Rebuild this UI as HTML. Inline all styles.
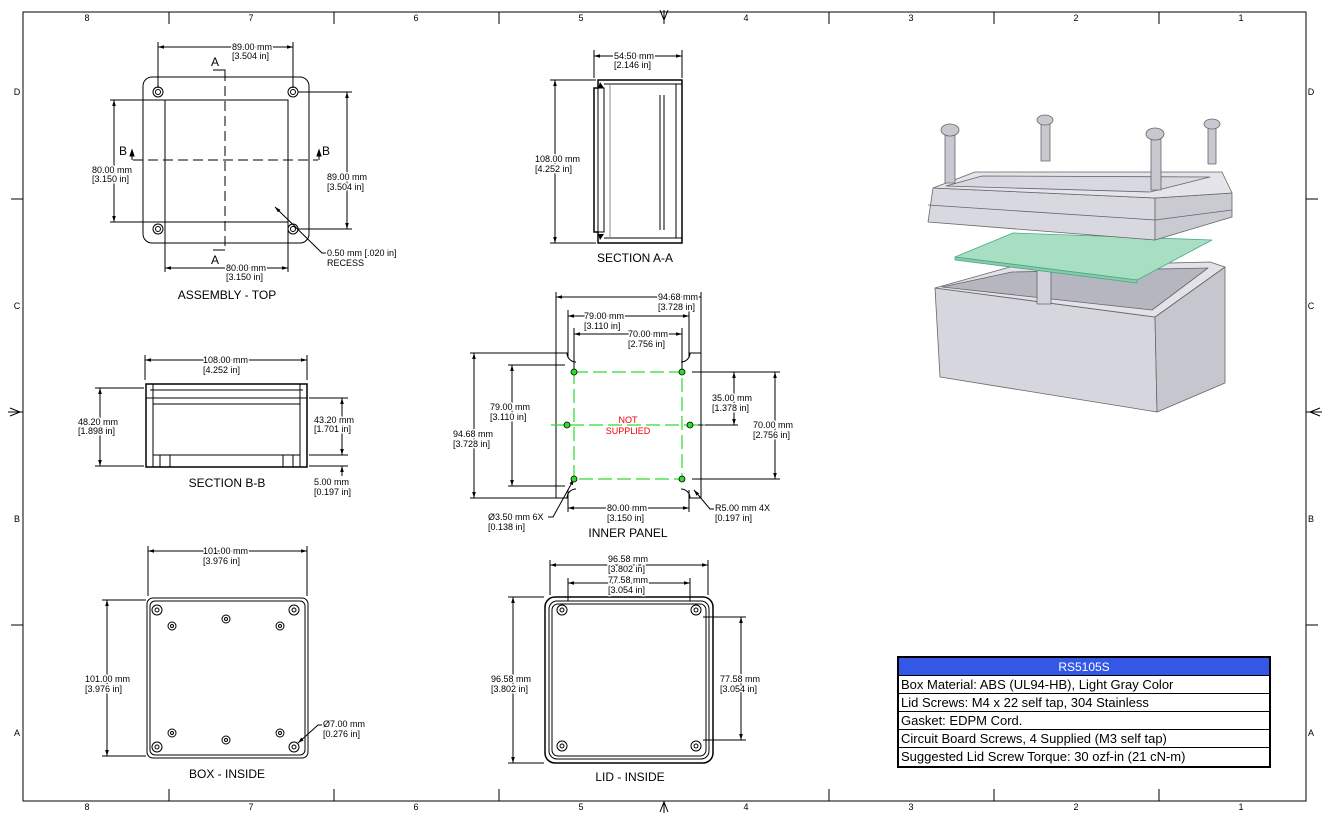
<!DOCTYPE html>
<html><head><meta charset="utf-8"><style>
body{margin:0;background:#fff}
svg{display:block;font-family:"Liberation Sans",sans-serif}
text{fill:#000}
.d text,.d{font-size:9px;stroke:#fff;stroke-width:3px;paint-order:stroke;stroke-linejoin:round}
.t{font-size:12px}
</style></head><body>
<svg width="1336" height="838" viewBox="0 0 1336 838" xmlns="http://www.w3.org/2000/svg">
<defs>
<marker id="a" viewBox="0 0 10 10" refX="10" refY="5" markerWidth="6" markerHeight="6" orient="auto-start-reverse"><path d="M0,2 L10,5 L0,8z" fill="#000"/></marker>
<linearGradient id="g" x1="0" x2="1"><stop offset="0" stop-color="#dcdce2"/><stop offset="1" stop-color="#c8c8d0"/></linearGradient>
</defs>
<rect x="0" y="0" width="1336" height="838" fill="#fff"/>
<rect x="23" y="12" width="1283" height="789" fill="none" stroke="#000" stroke-width="1"/>
<g stroke="#000" stroke-width="1">
<line x1="169" y1="12" x2="169" y2="24"/><line x1="334" y1="12" x2="334" y2="24"/><line x1="499" y1="12" x2="499" y2="24"/><line x1="829" y1="12" x2="829" y2="24"/><line x1="994" y1="12" x2="994" y2="24"/><line x1="1159" y1="12" x2="1159" y2="24"/>
<line x1="169" y1="789" x2="169" y2="801"/><line x1="334" y1="789" x2="334" y2="801"/><line x1="499" y1="789" x2="499" y2="801"/><line x1="829" y1="789" x2="829" y2="801"/><line x1="994" y1="789" x2="994" y2="801"/><line x1="1159" y1="789" x2="1159" y2="801"/>
<line x1="11" y1="199" x2="23" y2="199"/><line x1="11" y1="625" x2="23" y2="625"/><line x1="1306" y1="199" x2="1318" y2="199"/><line x1="1306" y1="625" x2="1318" y2="625"/>
</g>
<g fill="none" stroke="#000"><path d="M660,10 L664,20 L668,10 M664,10 V24"/><path d="M660,812 L664,802 L668,812 M664,801 V813"/><path d="M10,408 L20,412 L10,416 M8,412 H23"/><path d="M1320,408 L1310,412 L1320,416 M1306,412 H1322"/></g>
<g font-size="9px" text-anchor="middle">
<text x="87" y="21">8</text><text x="251" y="21">7</text><text x="416" y="21">6</text><text x="581" y="21">5</text><text x="746" y="21">4</text><text x="911" y="21">3</text><text x="1076" y="21">2</text><text x="1241" y="21">1</text>
<text x="87" y="810">8</text><text x="251" y="810">7</text><text x="416" y="810">6</text><text x="581" y="810">5</text><text x="746" y="810">4</text><text x="911" y="810">3</text><text x="1076" y="810">2</text><text x="1241" y="810">1</text>
<text x="17" y="95">D</text><text x="17" y="309">C</text><text x="17" y="522">B</text><text x="17" y="736">A</text>
<text x="1311" y="95">D</text><text x="1311" y="309">C</text><text x="1311" y="522">B</text><text x="1311" y="736">A</text>
</g>

<!-- ASSEMBLY TOP -->
<g fill="none" stroke="#000" stroke-width="1">
<rect x="143" y="77" width="166" height="166" rx="9"/>
<rect x="165" y="100" width="123" height="122"/>
<circle cx="158" cy="92" r="5"/><circle cx="158" cy="92" r="2.5"/>
<circle cx="293" cy="92" r="5"/><circle cx="293" cy="92" r="2.5"/>
<circle cx="158" cy="229" r="5"/><circle cx="158" cy="229" r="2.5"/>
<circle cx="293" cy="229" r="5"/><circle cx="293" cy="229" r="2.5"/>
<line x1="225" y1="71" x2="225" y2="250" stroke-dasharray="10,5"/>
<line x1="133" y1="160" x2="318" y2="160" stroke-dasharray="10,5"/>
<path d="M225,71 V70 H213 M225,250 H213"/>
<line x1="158" y1="42" x2="158" y2="88"/><line x1="293" y1="42" x2="293" y2="88"/>
<line x1="158" y1="47" x2="293" y2="47" marker-start="url(#a)" marker-end="url(#a)"/>
<line x1="110" y1="100" x2="165" y2="100"/><line x1="110" y1="222" x2="165" y2="222"/>
<line x1="114" y1="100" x2="114" y2="222" marker-start="url(#a)" marker-end="url(#a)"/>
<line x1="298" y1="92" x2="352" y2="92"/><line x1="298" y1="229" x2="352" y2="229"/>
<line x1="347" y1="92" x2="347" y2="229" marker-start="url(#a)" marker-end="url(#a)"/>
<line x1="165" y1="222" x2="165" y2="272"/><line x1="288" y1="222" x2="288" y2="272"/>
<line x1="165" y1="268" x2="288" y2="268" marker-start="url(#a)" marker-end="url(#a)"/>
<path d="M275,207 L322,253 H327" marker-start="url(#a)"/>
</g>
<path d="M132,150 l-2,6 h4z M132,150 v10 M319,150 l-2,6 h4z M319,150 v10" stroke="#000" fill="#000"/>
<g class="d">
<text x="232" y="50">89.00 mm</text><text x="232" y="59">[3.504 in]</text>
<text x="92" y="173">80.00 mm</text><text x="92" y="182">[3.150 in]</text>
<text x="327" y="180">89.00 mm</text><text x="327" y="190">[3.504 in]</text>
<text x="226" y="271">80.00 mm</text><text x="226" y="280">[3.150 in]</text>
<text x="327" y="256">0.50 mm [.020 in]</text><text x="327" y="266">RECESS</text>
</g>
<g font-size="12px"><text x="211" y="66">A</text><text x="211" y="264">A</text><text x="119" y="155">B</text><text x="322" y="155">B</text></g>
<text x="227" y="299" class="t" text-anchor="middle">ASSEMBLY - TOP</text>

<!-- SECTION A-A -->
<g fill="none" stroke="#000">
<path d="M598,80 H682 V243 H598 V232 H594 V88 H598Z" stroke-width="1.5"/>
<path d="M604,84 H676 M604,238 H676"/>
<rect x="598" y="88" width="6" height="144"/>
<rect x="676" y="84" width="6" height="154"/>
<line x1="660" y1="95" x2="660" y2="230"/><line x1="664" y1="95" x2="664" y2="230"/>
<line x1="610" y1="84" x2="610" y2="238" stroke="#888"/>
<line x1="594" y1="50" x2="594" y2="78"/><line x1="682" y1="50" x2="682" y2="78"/>
<line x1="594" y1="56" x2="682" y2="56" marker-start="url(#a)" marker-end="url(#a)"/>
<line x1="550" y1="80" x2="596" y2="80"/><line x1="550" y1="243" x2="596" y2="243"/>
<line x1="555" y1="80" x2="555" y2="243" marker-start="url(#a)" marker-end="url(#a)"/>
</g>
<path d="M600,82 L604,88 L598,88Z M600,240 L604,234 L598,234Z" fill="#000"/>
<g class="d"><text x="614" y="59">54.50 mm</text><text x="614" y="68">[2.146 in]</text>
<text x="535" y="162">108.00 mm</text><text x="535" y="172">[4.252 in]</text></g>
<text x="635" y="262" class="t" text-anchor="middle">SECTION A-A</text>

<!-- SECTION B-B -->
<g fill="none" stroke="#000">
<path d="M146,384 H307 V467 H146Z" stroke-width="1.5"/>
<path d="M150,390 H303 M146,398 H307 M153,404 H300"/>
<rect x="146" y="384" width="7" height="83"/><rect x="300" y="384" width="7" height="83"/>
<path d="M153,455 H300 M160,455 V467 M170,455 V467 M283,455 V467 M293,455 V467"/>
<line x1="145" y1="355" x2="145" y2="380"/><line x1="307" y1="355" x2="307" y2="380"/>
<line x1="145" y1="360" x2="307" y2="360" marker-start="url(#a)" marker-end="url(#a)"/>
<line x1="95" y1="388" x2="144" y2="388"/><line x1="95" y1="466" x2="144" y2="466"/>
<line x1="100" y1="388" x2="100" y2="466" marker-start="url(#a)" marker-end="url(#a)"/>
<line x1="309" y1="398" x2="348" y2="398"/><line x1="309" y1="455" x2="348" y2="455"/><line x1="309" y1="466" x2="348" y2="466"/>
<line x1="342" y1="398" x2="342" y2="455" marker-start="url(#a)" marker-end="url(#a)"/>
<line x1="342" y1="466" x2="342" y2="476" marker-start="url(#a)"/>
</g>
<g class="d"><text x="203" y="363">108.00 mm</text><text x="203" y="373">[4.252 in]</text>
<text x="78" y="425">48.20 mm</text><text x="78" y="434">[1.898 in]</text>
<text x="314" y="423">43.20 mm</text><text x="314" y="432">[1.701 in]</text>
<text x="314" y="485">5.00 mm</text><text x="314" y="495">[0.197 in]</text></g>
<text x="227" y="487" class="t" text-anchor="middle">SECTION B-B</text>

<!-- INNER PANEL -->
<g fill="none" stroke="#000">
<path d="M556,353 H567 A9,9 0 0 0 576,362 M556,353 V498 H567 A9,9 0 0 1 576,489 M701,353 H690 A9,9 0 0 1 681,362 M701,353 V498 H690 A9,9 0 0 0 681,489"/>
<line x1="556" y1="292" x2="556" y2="353"/><line x1="701" y1="292" x2="701" y2="353"/>
<line x1="556" y1="297" x2="701" y2="297" marker-start="url(#a)" marker-end="url(#a)"/>
<line x1="568" y1="310" x2="568" y2="358"/><line x1="689" y1="310" x2="689" y2="358"/>
<line x1="568" y1="316" x2="689" y2="316" marker-start="url(#a)" marker-end="url(#a)"/>
<line x1="574" y1="328" x2="574" y2="370"/><line x1="682" y1="328" x2="682" y2="370"/>
<line x1="574" y1="334" x2="682" y2="334" marker-start="url(#a)" marker-end="url(#a)"/>
<line x1="470" y1="353" x2="556" y2="353"/><line x1="470" y1="498" x2="556" y2="498"/>
<line x1="474" y1="353" x2="474" y2="498" marker-start="url(#a)" marker-end="url(#a)"/>
<line x1="508" y1="365" x2="565" y2="365"/><line x1="508" y1="486" x2="565" y2="486"/>
<line x1="512" y1="365" x2="512" y2="486" marker-start="url(#a)" marker-end="url(#a)"/>
<line x1="692" y1="372" x2="780" y2="372"/><line x1="692" y1="479" x2="780" y2="479"/>
<line x1="775" y1="372" x2="775" y2="479" marker-start="url(#a)" marker-end="url(#a)"/>
<line x1="694" y1="425" x2="738" y2="425"/>
<line x1="734" y1="372" x2="734" y2="425" marker-start="url(#a)" marker-end="url(#a)"/>
<line x1="568" y1="490" x2="568" y2="512"/><line x1="689" y1="490" x2="689" y2="512"/>
<line x1="568" y1="508" x2="689" y2="508" marker-start="url(#a)" marker-end="url(#a)"/>
<path d="M574,479 L553,517 H548" marker-start="url(#a)"/>
<path d="M694,490 L710,509 H714" marker-start="url(#a)"/>
</g>
<g fill="none" stroke="#2ddc2d" stroke-width="1.2" stroke-dasharray="14,5">
<rect x="574" y="372" width="108" height="107"/>
<line x1="551" y1="425" x2="705" y2="425"/>
</g>
<g fill="#2ddc2d" stroke="#000" stroke-width="0.8">
<circle cx="574" cy="372" r="3"/><circle cx="682" cy="372" r="3"/><circle cx="574" cy="479" r="3"/><circle cx="682" cy="479" r="3"/><circle cx="567" cy="425" r="3"/><circle cx="690" cy="425" r="3"/>
</g>
<g class="d" text-anchor="middle"><text x="628" y="423" style="fill:#e00">NOT</text><text x="628" y="434" style="fill:#e00">SUPPLIED</text></g>
<g class="d"><text x="658" y="300">94.68 mm</text><text x="658" y="310">[3.728 in]</text>
<text x="584" y="319">79.00 mm</text><text x="584" y="329">[3.110 in]</text>
<text x="628" y="337">70.00 mm</text><text x="628" y="347">[2.756 in]</text>
<text x="453" y="437">94.68 mm</text><text x="453" y="447">[3.728 in]</text>
<text x="490" y="410">79.00 mm</text><text x="490" y="420">[3.110 in]</text>
<text x="712" y="401">35.00 mm</text><text x="712" y="411">[1.378 in]</text>
<text x="753" y="428">70.00 mm</text><text x="753" y="438">[2.756 in]</text>
<text x="607" y="511">80.00 mm</text><text x="607" y="521">[3.150 in]</text>
<text x="488" y="520">Ø3.50 mm 6X</text><text x="488" y="530">[0.138 in]</text>
<text x="715" y="511">R5.00 mm 4X</text><text x="715" y="521">[0.197 in]</text></g>
<text x="628" y="537" class="t" text-anchor="middle">INNER PANEL</text>

<!-- BOX INSIDE -->
<g fill="none" stroke="#000">
<rect x="147" y="598" width="161" height="160" rx="6"/>
<rect x="150" y="601" width="155" height="154" rx="5"/>
<circle cx="157" cy="610" r="5"/><circle cx="157" cy="610" r="2"/>
<circle cx="294" cy="610" r="5"/><circle cx="294" cy="610" r="2"/>
<circle cx="157" cy="747" r="5"/><circle cx="157" cy="747" r="2"/>
<circle cx="294" cy="747" r="5"/><circle cx="294" cy="747" r="2"/>
<circle cx="172" cy="626" r="4"/><circle cx="172" cy="626" r="1.5"/>
<circle cx="226" cy="619" r="4"/><circle cx="226" cy="619" r="1.5"/>
<circle cx="280" cy="626" r="4"/><circle cx="280" cy="626" r="1.5"/>
<circle cx="172" cy="733" r="4"/><circle cx="172" cy="733" r="1.5"/>
<circle cx="226" cy="740" r="4"/><circle cx="226" cy="740" r="1.5"/>
<circle cx="280" cy="733" r="4"/><circle cx="280" cy="733" r="1.5"/>
<line x1="148" y1="546" x2="148" y2="596"/><line x1="307" y1="546" x2="307" y2="596"/>
<line x1="148" y1="551" x2="307" y2="551" marker-start="url(#a)" marker-end="url(#a)"/>
<line x1="102" y1="600" x2="146" y2="600"/><line x1="102" y1="756" x2="146" y2="756"/>
<line x1="107" y1="600" x2="107" y2="756" marker-start="url(#a)" marker-end="url(#a)"/>
<path d="M298,743 L318,725 H322" marker-start="url(#a)"/>
</g>
<g class="d"><text x="203" y="554">101.00 mm</text><text x="203" y="564">[3.976 in]</text>
<text x="85" y="682">101.00 mm</text><text x="85" y="692">[3.976 in]</text>
<text x="323" y="727">Ø7.00 mm</text><text x="323" y="737">[0.276 in]</text></g>
<text x="227" y="778" class="t" text-anchor="middle">BOX - INSIDE</text>

<!-- LID INSIDE -->
<g fill="none" stroke="#000">
<rect x="545" y="597" width="168" height="166" rx="10" stroke-width="1.5"/>
<rect x="549" y="601" width="160" height="158" rx="8"/>
<rect x="552" y="604" width="154" height="152" rx="6"/>
<circle cx="562" cy="610" r="5"/><circle cx="562" cy="610" r="2"/>
<circle cx="696" cy="610" r="5"/><circle cx="696" cy="610" r="2"/>
<circle cx="562" cy="746" r="5"/><circle cx="562" cy="746" r="2"/>
<circle cx="696" cy="746" r="5"/><circle cx="696" cy="746" r="2"/>
<line x1="550" y1="560" x2="550" y2="595"/><line x1="708" y1="560" x2="708" y2="595"/>
<line x1="550" y1="565" x2="708" y2="565" marker-start="url(#a)" marker-end="url(#a)"/>
<line x1="568" y1="578" x2="568" y2="601"/><line x1="690" y1="578" x2="690" y2="601"/>
<line x1="568" y1="583" x2="690" y2="583" marker-start="url(#a)" marker-end="url(#a)"/>
<line x1="508" y1="597" x2="544" y2="597"/><line x1="508" y1="763" x2="544" y2="763"/>
<line x1="513" y1="597" x2="513" y2="763" marker-start="url(#a)" marker-end="url(#a)"/>
<line x1="703" y1="617" x2="746" y2="617"/><line x1="703" y1="740" x2="746" y2="740"/>
<line x1="741" y1="617" x2="741" y2="740" marker-start="url(#a)" marker-end="url(#a)"/>
</g>
<g class="d"><text x="608" y="562">96.58 mm</text><text x="608" y="572">[3.802 in]</text>
<text x="608" y="583">77.58 mm</text><text x="608" y="593">[3.054 in]</text>
<text x="491" y="682">96.58 mm</text><text x="491" y="692">[3.802 in]</text>
<text x="720" y="682">77.58 mm</text><text x="720" y="692">[3.054 in]</text></g>
<text x="630" y="781" class="t" text-anchor="middle">LID - INSIDE</text>

<!-- 3D illustration -->
<g stroke="#666" stroke-width="0.8" stroke-linejoin="round">
<!-- box -->
<path d="M935,288 L1155,317 L1157,412 L940,377Z" fill="#d6d6de"/>
<path d="M1155,317 L1225,267 L1225,383 L1157,412Z" fill="#c6c6ce"/>
<path d="M935,288 L1010,267 L1210,262 L1225,267 L1155,317Z" fill="#e2e2e8"/>
<path d="M942,287 L1012,272 L1208,268 L1152,310Z" fill="#b6b6c0"/>
<rect x="1037" y="268" width="14" height="36" fill="#d2d2da"/>
<!-- pcb -->
<path d="M955,257 L1013,233 L1212,240 L1137,280Z" fill="#a8dfc2" stroke="#4a8"/>
<path d="M955,257 L1137,280 L1137,283 L955,260Z" fill="#8cc9a8" stroke="#4a8"/>
<!-- lid -->
<path d="M933,188 L1155,198 L1155,240 L928,222Z" fill="#d8d8e0"/>
<path d="M1155,198 L1232,193 L1232,217 L1155,240Z" fill="#cacad2"/>
<path d="M928,205 L1155,220 L1232,210" fill="none"/>
<path d="M933,188 L975,172 L1222,172 L1232,193 L1155,198Z" fill="#e4e4ea"/>
<path d="M946,186 L982,176 L1210,177 L1150,192Z" fill="#d8d8e2"/>
<!-- screws -->
<g fill="#c8c8d0">
<rect x="945" y="133" width="10" height="50"/><ellipse cx="950" cy="130" rx="9" ry="6"/>
<rect x="1041" y="123" width="9" height="38"/><ellipse cx="1045" cy="120" rx="8" ry="5"/>
<rect x="1151" y="137" width="10" height="53"/><ellipse cx="1155" cy="134" rx="9" ry="6"/>
<rect x="1208" y="127" width="8" height="37"/><ellipse cx="1212" cy="124" rx="8" ry="5"/>
</g>
</g>

<!-- Table -->
<g>
<rect x="898" y="657" width="372" height="110" fill="#fff" stroke="#000" stroke-width="2"/>
<rect x="899" y="658" width="370" height="17" fill="#3358e6"/>
<g stroke="#000"><line x1="898" y1="675.5" x2="1270" y2="675.5"/><line x1="898" y1="693.5" x2="1270" y2="693.5"/><line x1="898" y1="711.5" x2="1270" y2="711.5"/><line x1="898" y1="729.5" x2="1270" y2="729.5"/><line x1="898" y1="747.5" x2="1270" y2="747.5"/></g>
<text x="1084" y="671" text-anchor="middle" font-size="12px" style="fill:#fff">RS5105S</text>
<g font-size="13px"><text x="901" y="689">Box Material: ABS (UL94-HB),  Light Gray Color</text>
<text x="901" y="707">Lid Screws: M4 x 22 self tap,  304 Stainless</text>
<text x="901" y="725">Gasket: EDPM Cord.</text>
<text x="901" y="743">Circuit Board Screws, 4 Supplied (M3 self tap)</text>
<text x="901" y="761">Suggested Lid Screw Torque: 30 ozf-in (21 cN-m)</text></g>
</g>
</svg>
</body></html>
